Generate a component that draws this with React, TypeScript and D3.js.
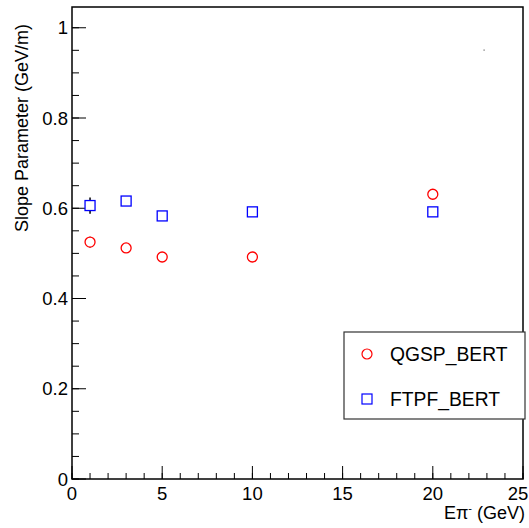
import React from "react";
import * as d3 from "d3";

const energies = [1, 3, 5, 10, 20];
const qgspValues = [0.525, 0.512, 0.492, 0.492, 0.631];
const qgspErrors = [0.012, 0.004, 0.004, 0.004, 0.01];
const ftpfValues = [0.606, 0.616, 0.583, 0.592, 0.592];
const ftpfErrors = [0.018, 0.004, 0.004, 0.004, 0.004];
const yTicks = [0, 0.2, 0.4, 0.6, 0.8, 1];
const xTicks = [0, 5, 10, 15, 20, 25];
const seriesNames = ["QGSP_BERT", "FTPF_BERT"];

const W = 529, H = 528;
const L = 72, R = 523, T = 7, B = 479;
const FONT = "'Liberation Sans', Arial, Helvetica, sans-serif";

export default function App() {
  const x = d3.scaleLinear().domain([0, 25]).range([L, R]);
  const y = d3.scaleLinear().domain([0, 1.046]).range([B, T]);
  const yMinor = d3.range(0, 1.046, 0.05);
  const xMinor = d3.range(0, 25.01, 1);
  return (
    <svg width={W} height={H} style={{ position: "absolute", left: 0, top: 0 }} fontFamily={FONT}>
      <rect x={0} y={0} width={W} height={H} fill="#fff" />
      {yMinor.map((v, i) => (
        <line key={"ym" + i} x1={L} x2={L + 7} y1={y(v)} y2={y(v)} stroke="#000" strokeWidth={1} />
      ))}
      {yTicks.map((v, i) => (
        <line key={"yM" + i} x1={L} x2={L + 14} y1={y(v)} y2={y(v)} stroke="#000" strokeWidth={1} />
      ))}
      {xMinor.map((v, i) => (
        <line key={"xm" + i} x1={x(v)} x2={x(v)} y1={B} y2={B - 6} stroke="#000" strokeWidth={1} />
      ))}
      {xTicks.map((v, i) => (
        <line key={"xM" + i} x1={x(v)} x2={x(v)} y1={B} y2={B - 13} stroke="#000" strokeWidth={1} />
      ))}
      <rect x={L} y={T} width={R - L} height={B - T} fill="none" stroke="#000" strokeWidth={1.5} />
      {yTicks.map((v, i) => (
        <text key={"yl" + i} x={L - 4} y={y(v) + 6.5} fontSize={18.5} textAnchor="end">
          {d3.format("~g")(v)}
        </text>
      ))}
      {xTicks.map((v, i) => (
        <text key={"xl" + i} x={i === xTicks.length - 1 ? x(v) - 5 : x(v)} y={500} fontSize={18.5} textAnchor="middle">
          {v}
        </text>
      ))}
      <text transform={`translate(28,128) rotate(-90)`} x={0} y={0} fontSize={18} textAnchor="middle">
        Slope Parameter (GeV/m)
      </text>
      <text x={525} y={519} fontSize={18} textAnchor="end">
        Eπ<tspan dy={-7} fontSize={11}>-</tspan><tspan dy={7}> (GeV)</tspan>
      </text>
      {energies.map((e, i) => (
        <line key={"qe" + i} x1={x(e)} x2={x(e)} y1={y(qgspValues[i] - qgspErrors[i])} y2={y(qgspValues[i] + qgspErrors[i])} stroke="#000" strokeWidth={1.5} />
      ))}
      {energies.map((e, i) => (
        <line key={"fe" + i} x1={x(e)} x2={x(e)} y1={y(ftpfValues[i] - ftpfErrors[i])} y2={y(ftpfValues[i] + ftpfErrors[i])} stroke="#000" strokeWidth={1.5} />
      ))}
      {energies.map((e, i) => (
        <circle key={"q" + i} cx={x(e)} cy={y(qgspValues[i])} r={5} fill="#fff" stroke="#ff0000" strokeWidth={1.3} />
      ))}
      {energies.map((e, i) => (
        <rect key={"f" + i} x={x(e) - 5} y={y(ftpfValues[i]) - 5} width={10} height={10} fill="#fff" stroke="#0000ff" strokeWidth={1.3} />
      ))}
      <rect x={483.5} y={49.5} width={1.2} height={1.2} fill="#666" />
      <rect x={344} y={332} width={181} height={87} fill="#fff" stroke="#333" strokeWidth={1.2} />
      <circle cx={367} cy={354} r={5} fill="none" stroke="#ff0000" strokeWidth={1.2} />
      <rect x={362} y={394} width={10} height={10} fill="none" stroke="#0000ff" strokeWidth={1.2} />
      <text x={390} y={361} fontSize={19.3}>{seriesNames[0]}</text>
      <text x={390} y={406} fontSize={19.3}>{seriesNames[1]}</text>
    </svg>
  );
}
